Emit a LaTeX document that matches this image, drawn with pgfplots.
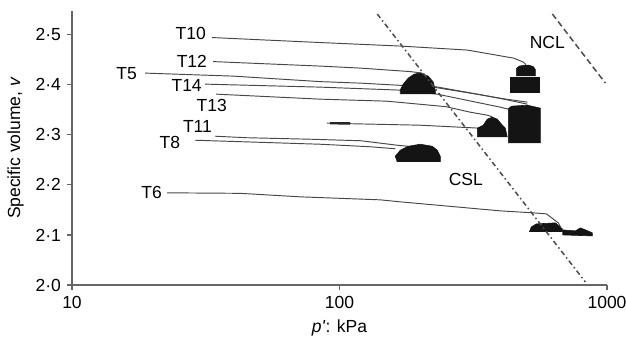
\documentclass[border=0pt]{standalone}
\usepackage{fontspec}
\setmainfont{Liberation Sans}
\usepackage{pgfplots}
\pgfplotsset{compat=1.18}
\tikzset{tl/.style={draw=black!72, line width=0.95pt, solid, mark=none},
 blk/.style={fill=black!92, draw=black!92, line width=0.6pt, mark=none}}
\begin{document}
\fontsize{17.5}{21}\selectfont
\begin{tikzpicture}
\begin{axis}[
 scale only axis, width=535pt, height=274pt,
 xmode=log, xmin=10, xmax=1000, ymin=2.0, ymax=2.547,
 axis x line=bottom, axis y line=left,
 axis line style={-, draw=black!60, line width=1.6pt},
 xtick={10,100,1000}, xticklabels={10,100,1000},
 ytick={2.0,2.1,2.2,2.3,2.4,2.5}, yticklabels={2·0,2·1,2·2,2·3,2·4,2·5},
 xminorticks=false, yminorticks=false,
 tick align=outside, major tick length=5pt,
 tick style={draw=black!60, line width=1.2pt},
 /pgf/number format/assume math mode=true,
 xlabel={\textit{p\textquotesingle}: kPa},
 ylabel={Specific volume, \textit{v}},
 clip=false,
]
% T10
\addplot[tl] coordinates {(33.4,2.494)(84.7,2.484)(168.7,2.477)(300.4,2.469)(446.6,2.453)(486.8,2.445)(497,2.440)};
\addplot[blk] coordinates {(458.3,2.417)(458.3,2.432)(470,2.437)(495,2.439)(510,2.439)(530,2.436)(539.9,2.430)(539.9,2.417)};
\addplot[blk] coordinates {(435.2,2.383)(435.2,2.415)(558.8,2.415)(558.8,2.383)};
% T12
\addplot[tl] coordinates {(33.7,2.446)(84.7,2.437)(119.5,2.433)(183.9,2.426)(203.9,2.423)};
\addplot[tl] coordinates {(228,2.396)(336,2.380)(420,2.370)(503.9,2.361)};
% T5
\addplot[tl] coordinates {(18.76,2.423)(40.0,2.417)(84.7,2.406)(119.5,2.403)(224.1,2.395)(300.4,2.384)(420,2.371)(503.9,2.365)};
% T14
\addplot[tl] coordinates {(31.45,2.401)(84.7,2.395)(168.7,2.389)(232,2.381)(399.2,2.355)(427.7,2.351)};
% T13
\addplot[tl] coordinates {(34.6,2.381)(84.7,2.371)(150,2.367)(250,2.356)(308,2.345)(357,2.339)(372,2.336)};
% short stage
\addplot[tl] coordinates {(89.9,2.323)(109.6,2.322)(200,2.319)(336.1,2.313)};
\addplot[tl, draw=black!85, line width=2.4pt] coordinates {(92,2.323)(109.6,2.3225)};
% T11
\addplot[tl] coordinates {(34.3,2.297)(45,2.294)(77.7,2.291)(120,2.288)(164.4,2.279)(180,2.277)};
% T8
\addplot[tl] coordinates {(28.85,2.289)(84.7,2.281)(130,2.276)(161.6,2.272)};
% T6
\addplot[tl] coordinates {(22.67,2.184)(42.5,2.183)(71.3,2.176)(142,2.170)(168.7,2.166)(399.2,2.148)(530.6,2.144)(593.4,2.142)(657.9,2.124)(670,2.116)};
% blocks
\addplot[blk] coordinates {(168.7,2.381)(168.7,2.389)(173.1,2.401)(180.7,2.413)(190.3,2.421)(200.4,2.423)(214.7,2.417)(224.1,2.405)(228,2.389)(228,2.381)};
\addplot[blk] coordinates {(164.4,2.246)(161.6,2.257)(168.7,2.269)(180.7,2.277)(200.4,2.281)(222.2,2.277)(232,2.269)(238.1,2.257)(238.1,2.246)};
\addplot[blk] coordinates {(327.5,2.295)(327.5,2.313)(344.8,2.319)(356.9,2.331)(372.7,2.335)(389,2.331)(406.2,2.319)(416.8,2.313)(424.1,2.295)};
\addplot[blk] coordinates {(427.7,2.283)(427.7,2.352)(440,2.357)(503.9,2.359)(563.6,2.353)(563.6,2.283)};
\addplot[blk] coordinates {(512.6,2.106)(521.5,2.116)(544.5,2.122)(641.2,2.124)(681,2.112)(681,2.106)};
\addplot[blk] coordinates {(681,2.110)(761.8,2.108)(795.4,2.114)(830.4,2.110)(881.9,2.104)(881.9,2.098)(681,2.100)};
% CSL and NCL
\addplot[black!70, line width=1.5pt, mark=none, dash pattern=on 5pt off 3pt on 1.5pt off 3pt] coordinates {(138.4,2.541)(830,2.006)};
\addplot[black!70, line width=1.5pt, mark=none, dash pattern=on 6pt off 3.5pt] coordinates {(624.8,2.541)(986,2.403)};
% labels
\node[anchor=east, inner sep=0pt] at (axis cs:31.7,2.502) {T10};
\node[anchor=east, inner sep=0pt] at (axis cs:32.0,2.446) {T12};
\node[anchor=east, inner sep=0pt] at (axis cs:17.5,2.423) {T5};
\node[anchor=east, inner sep=0pt] at (axis cs:30.6,2.399) {T14};
\node[anchor=east, inner sep=0pt] at (axis cs:38.0,2.359) {T13};
\node[anchor=east, inner sep=0pt] at (axis cs:33.4,2.316) {T11};
\node[anchor=east, inner sep=0pt] at (axis cs:25.4,2.284) {T8};
\node[anchor=east, inner sep=0pt] at (axis cs:21.7,2.184) {T6};
\node[inner sep=0pt] at (axis cs:598,2.484) {NCL};
\node[inner sep=0pt] at (axis cs:296.6,2.211) {CSL};
\end{axis}
\pgfresetboundingbox
\path (-72pt,-67pt) rectangle (554pt,285pt);
\end{tikzpicture}
\end{document}
